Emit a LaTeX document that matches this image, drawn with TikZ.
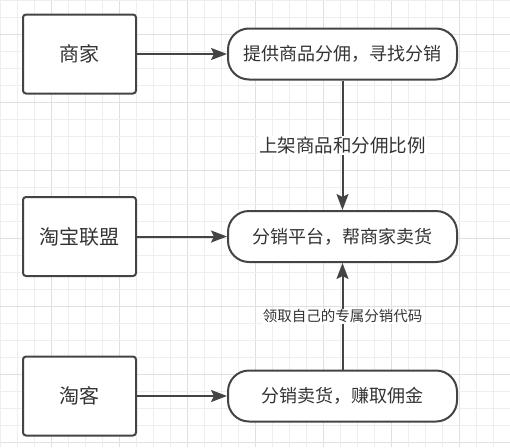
\documentclass[tikz,border=0pt]{standalone}
\usepackage{fontspec}
\setmainfont{Noto Sans CJK SC}
\usetikzlibrary{arrows.meta}
\definecolor{txt}{HTML}{333333}
\definecolor{edge}{HTML}{444444}
\definecolor{gminor}{HTML}{EEEEEE}
\definecolor{gmajor}{HTML}{E0E0E0}
\tikzset{
  lbox/.style={draw=edge, line width=2pt, rounded corners=3pt, fill=white,
    minimum width=113pt, minimum height=79pt, text=txt, inner sep=0pt,
    font=\fontsize{20}{24}\selectfont},
  rbox/.style={draw=edge, line width=2pt, rounded corners=21pt, fill=white,
    minimum width=229pt, minimum height=51pt, text=txt, inner sep=0pt,
    font=\fontsize{18}{22}\selectfont},
  conn/.style={draw=edge, line width=2pt,
    -{Stealth[length=16pt,width=12pt,inset=3pt]}},
  lbl/.style={fill=white, text=txt, inner sep=1pt},
}
\begin{document}
\begin{tikzpicture}[x=1pt,y=-1pt]
\useasboundingbox (0,0) rectangle (510,447);
\fill[white] (0,0) rectangle (510,447);
% grid
\foreach \i in {0,...,30} {
  \pgfmathtruncatemacro{\m}{mod(\i+1,4)}
  \ifnum\m=0 \def\gc{gmajor}\else\def\gc{gminor}\fi
  \draw[\gc, line width=0.8pt] (\i*17,0) -- (\i*17,447);
}
\foreach \j in {0,...,26} {
  \pgfmathtruncatemacro{\m}{mod(\j+2,4)}
  \ifnum\m=0 \def\gc{gmajor}\else\def\gc{gminor}\fi
  \draw[\gc, line width=0.8pt] (0,\j*17) -- (510,\j*17);
}
% nodes
\node[lbox] (shop) at (79.5,54) {商家};
\node[lbox] (union) at (79.5,236.5) {淘宝联盟};
\node[lbox] (tk) at (79.5,396) {淘客};
\node[rbox] (r1) at (342.5,54) {提供商品分佣，寻找分销};
\node[rbox] (r2) at (342.5,236.5) {分销平台，帮商家卖货};
\node[rbox] (r3) at (342.5,396) {分销卖货，赚取佣金};
% connectors
\draw[conn] (shop) -- (r1);
\draw[conn] (union) -- (r2);
\draw[conn] (tk) -- (r3);
\draw[conn] (r1) -- node[lbl, font=\fontsize{18.5}{22}\selectfont] (l1) {上架商品和分佣比例} (r2);
\draw[conn] (r3) -- node[lbl, font=\fontsize{14.5}{18}\selectfont] (l2) {领取自己的专属分销代码} (r2);
\end{tikzpicture}
\end{document}
